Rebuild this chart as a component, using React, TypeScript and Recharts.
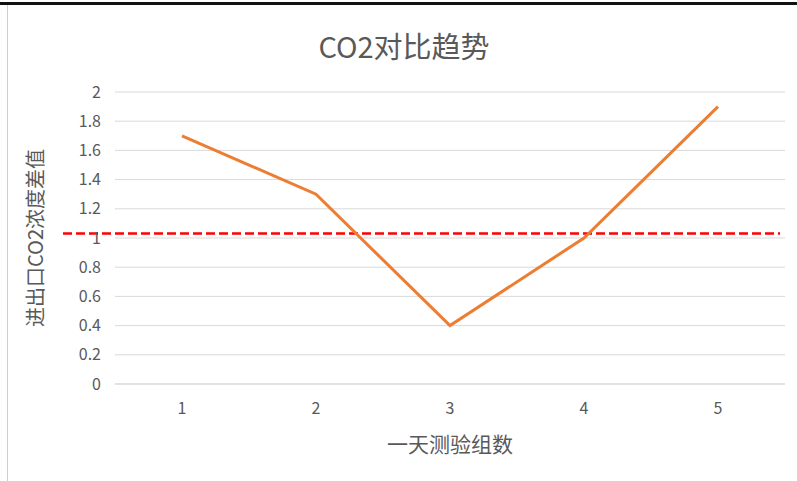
import React from 'react';
import {
  LineChart,
  Line,
  XAxis,
  YAxis,
  CartesianGrid,
  ReferenceLine,
  Label,
} from 'recharts';

// 一天测验组数
const groups = ['1', '2', '3', '4', '5'];
// 进出口CO2浓度差值
const diffValues = [1.7, 1.3, 0.4, 1.0, 1.9];
const yTicks = [0, 0.2, 0.4, 0.6, 0.8, 1, 1.2, 1.4, 1.6, 1.8, 2];
const thresholdValue = 1.03;

const data = groups.map((g, i) => ({ name: g, value: diffValues[i] }));

const FONT = '"Noto Sans CJK SC", "Noto Sans", sans-serif';
const TEXT_COLOR = '#595959';

// dashed line runs a bit past the plot area on both sides, like the original
const DashedShape = (props: any) => {
  const { x1, y1, x2, y2 } = props;
  return (
    <line
      x1={x1 - 52}
      y1={y1}
      x2={x2 - 5}
      y2={y2}
      stroke="#ff0000"
      strokeWidth={2.5}
      strokeDasharray="9 4"
    />
  );
};

const tickStyle = { fill: TEXT_COLOR, fontSize: 16, fontFamily: FONT, style: { fontSize: 16 } };

export default function App() {
  return (
    <div
      style={{
        position: 'absolute',
        left: 0,
        top: 0,
        width: 797,
        height: 481,
        background: '#fff',
        fontFamily: FONT,
        overflow: 'hidden',
      }}
    >
      <div style={{ position: 'absolute', left: 0, top: 2, width: 797, height: 3, background: '#111' }} />
      <div style={{ position: 'absolute', left: 7, top: 5, width: 1, height: 476, background: '#cfcfcf' }} />
      <div
        style={{
          position: 'absolute',
          left: 0,
          top: 25,
          width: 808,
          textAlign: 'center',
          fontSize: 29,
          color: TEXT_COLOR,
          lineHeight: '40px',
        }}
      >
        CO2对比趋势
      </div>
      <LineChart
        width={797}
        height={481}
        data={data}
        margin={{ top: 92, right: 12, bottom: 27, left: 0 }}
        style={{ position: 'absolute', left: 0, top: 0 }}
      >
        <CartesianGrid vertical={false} stroke="#d9d9d9" strokeWidth={1} />
        <XAxis
          dataKey="name"
          axisLine={{ stroke: '#d9d9d9' }}
          tickLine={false}
          padding={{ left: 67, right: 67 }}
          tick={tickStyle}
          fontSize={16}
          tickMargin={13}
          height={70}
        >
          <Label
            value="一天测验组数"
            position="insideBottom"
            offset={2}
            style={{ fill: TEXT_COLOR, fontSize: 21, fontFamily: FONT }}
          />
        </XAxis>
        <YAxis
          domain={[0, 2]}
          ticks={yTicks}
          width={115}
          axisLine={false}
          tickLine={false}
          tickMargin={8}
          tick={tickStyle}
          fontSize={16}
          interval={0}
        >
          <Label
            value="进出口CO2浓度差值"
            angle={-90}
            position="insideLeft"
            offset={36}
            style={{ fill: TEXT_COLOR, fontSize: 20, fontFamily: FONT, textAnchor: 'middle' }}
          />
        </YAxis>
        <ReferenceLine y={thresholdValue} shape={DashedShape} ifOverflow="visible" />
        <Line
          type="linear"
          dataKey="value"
          stroke="#ed7d31"
          strokeWidth={3}
          dot={false}
          activeDot={false}
          isAnimationActive={false}
        />
      </LineChart>
    </div>
  );
}
